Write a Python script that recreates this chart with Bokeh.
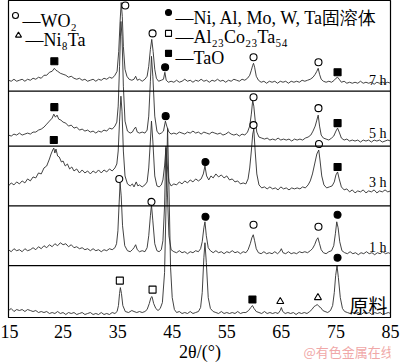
from bokeh.plotting import figure
from bokeh.models import Range1d, Label, Span, FixedTicker
from bokeh.layouts import column
from bokeh.embed import file_html
from bokeh.resources import INLINE

# ---------------- data (2theta in degrees, intensity in a.u.) ----------------
tick_values = [15, 25, 35, 45, 55, 65, 75, 85]
pattern_names = ["7 h", "5 h", "3 h", "1 h", "原料"]

xrd_7h = [(15.0, 11), (15.5, 10), (16.0, 12), (16.5, 10), (17.0, 11), (17.5, 12), (18.0, 10), (18.5, 12),
          (19.0, 11), (19.5, 13), (20.0, 12), (20.5, 14), (21.0, 13), (21.5, 16), (22.0, 16), (22.5, 19),
          (23.0, 20), (23.4, 23), (23.7, 21), (24.0, 20), (24.5, 18), (25.0, 17), (25.5, 16), (26.0, 14),
          (26.5, 15), (27.0, 13), (27.5, 12), (28.0, 13), (28.5, 11), (29.0, 12), (29.5, 10), (30.0, 11),
          (30.5, 12), (31.0, 10), (31.5, 12), (32.0, 11), (32.5, 13), (33.0, 12), (33.5, 14), (34.0, 13),
          (34.5, 16), (34.9, 20), (35.2, 40), (35.45, 70), (35.65, 89), (35.85, 75), (36.05, 45), (36.35, 22),
          (36.7, 15), (37.1, 12), (37.6, 11), (38.0, 12), (38.3, 15), (38.6, 11), (39.0, 12), (39.5, 10),
          (40.0, 12), (40.4, 15), (40.7, 25), (41.0, 42), (41.25, 52), (41.5, 40), (41.8, 22), (42.1, 13),
          (42.5, 10), (43.0, 11), (43.4, 12), (43.65, 19), (43.9, 11), (44.3, 9), (44.8, 10), (45.3, 9),
          (45.8, 11), (46.3, 9), (46.8, 10), (47.3, 12), (47.8, 10), (48.3, 11), (48.8, 9), (49.3, 11),
          (49.8, 10), (50.3, 12), (50.8, 10), (51.3, 11), (51.8, 9), (52.3, 11), (52.8, 10), (53.3, 12),
          (53.8, 10), (54.3, 11), (54.8, 9), (55.3, 11), (55.8, 10), (56.3, 12), (56.8, 11), (57.3, 10),
          (57.8, 12), (58.3, 11), (58.8, 13), (59.2, 16), (59.5, 21), (59.75, 26), (59.9, 28), (60.1, 24),
          (60.4, 15), (60.8, 11), (61.3, 9), (61.8, 10), (62.3, 8), (62.8, 10), (63.3, 9), (63.8, 10),
          (64.3, 8), (64.8, 10), (65.3, 9), (65.8, 10), (66.3, 8), (66.8, 10), (67.3, 9), (67.8, 10),
          (68.3, 9), (68.8, 11), (69.3, 10), (69.8, 11), (70.3, 12), (70.8, 14), (71.2, 17), (71.5, 20),
          (71.75, 23), (72.0, 17), (72.3, 12), (72.7, 10), (73.2, 9), (73.7, 10), (74.2, 9), (74.7, 11),
          (75.0, 13), (75.3, 14), (75.6, 12), (76.0, 9), (76.5, 10), (77.0, 8), (77.5, 9), (78.0, 8),
          (78.5, 9), (79.0, 8), (79.5, 10), (80.0, 8), (80.5, 9), (81.0, 8), (81.5, 9), (82.0, 7),
          (82.5, 9), (83.0, 8), (83.5, 9), (84.0, 8), (84.5, 9), (85.0, 8)]

xrd_5h = [(15.0, 11), (15.5, 10), (16.0, 12), (16.5, 11), (17.0, 13), (17.5, 11), (18.0, 12), (18.5, 13),
          (19.0, 12), (19.5, 14), (20.0, 14), (20.5, 16), (21.0, 17), (21.5, 19), (22.0, 22), (22.5, 25),
          (23.0, 28), (23.3, 32), (23.6, 29), (23.9, 31), (24.2, 27), (24.6, 26), (25.0, 24), (25.5, 23),
          (26.0, 20), (26.5, 21), (27.0, 18), (27.5, 19), (28.0, 16), (28.5, 17), (29.0, 15), (29.5, 16),
          (30.0, 14), (30.5, 15), (31.0, 13), (31.5, 15), (32.0, 14), (32.5, 16), (33.0, 15), (33.5, 18),
          (34.0, 17), (34.5, 20), (34.85, 24), (35.1, 40), (35.35, 80), (35.6, 125), (35.8, 110), (36.05, 60),
          (36.35, 25), (36.8, 15), (37.3, 13), (37.7, 14), (38.0, 17), (38.3, 19), (38.6, 14), (39.0, 13),
          (39.5, 14), (40.0, 13), (40.4, 16), (40.7, 30), (41.0, 65), (41.2, 90), (41.45, 70), (41.8, 30),
          (42.2, 15), (42.6, 12), (43.0, 13), (43.4, 15), (43.75, 25), (44.0, 20), (44.4, 14), (44.8, 12),
          (45.3, 13), (45.8, 12), (46.3, 14), (46.8, 13), (47.3, 12), (47.8, 14), (48.3, 13), (48.8, 15),
          (49.3, 13), (49.8, 14), (50.3, 12), (50.8, 14), (51.3, 13), (51.8, 12), (52.3, 14), (52.8, 13),
          (53.3, 12), (53.8, 13), (54.3, 11), (54.8, 12), (55.3, 14), (55.8, 12), (56.3, 11), (56.8, 12),
          (57.3, 10), (57.8, 12), (58.3, 11), (58.8, 14), (59.2, 20), (59.5, 32), (59.75, 46), (59.95, 40),
          (60.2, 26), (60.5, 14), (60.9, 9), (61.4, 8), (61.9, 7), (62.4, 8), (62.9, 6), (63.4, 7),
          (63.9, 6), (64.4, 8), (64.9, 6), (65.4, 7), (65.9, 6), (66.4, 7), (66.9, 5), (67.4, 7),
          (67.9, 6), (68.4, 7), (68.9, 6), (69.4, 8), (69.9, 9), (70.4, 11), (70.8, 15), (71.2, 20),
          (71.5, 26), (71.75, 31), (72.0, 20), (72.3, 11), (72.7, 8), (73.2, 7), (73.7, 6), (74.2, 8),
          (74.6, 10), (75.0, 15), (75.3, 18), (75.6, 14), (76.0, 8), (76.5, 6), (77.0, 7), (77.5, 5),
          (78.0, 6), (78.5, 5), (79.0, 6), (79.5, 4), (80.0, 6), (80.5, 5), (81.0, 6), (81.5, 4),
          (82.0, 6), (82.5, 5), (83.0, 6), (83.5, 4), (84.0, 5), (84.5, 6), (85.0, 5)]

xrd_3h = [(15.0, 20), (15.5, 23), (16.0, 21), (16.5, 24), (17.0, 22), (17.5, 25), (18.0, 23), (18.5, 27),
          (19.0, 25), (19.5, 29), (20.0, 28), (20.5, 33), (21.0, 32), (21.5, 38), (22.0, 40), (22.5, 47),
          (22.8, 52), (23.1, 56), (23.3, 58), (23.5, 53), (23.7, 57), (24.0, 50), (24.3, 49), (24.7, 44),
          (25.0, 45), (25.4, 40), (25.8, 42), (26.2, 37), (26.6, 39), (27.0, 35), (27.5, 37), (28.0, 33),
          (28.5, 36), (29.0, 33), (29.5, 35), (30.0, 32), (30.5, 35), (31.0, 33), (31.5, 36), (32.0, 33),
          (32.5, 36), (33.0, 34), (33.5, 37), (34.0, 35), (34.5, 38), (34.85, 42), (35.1, 55), (35.35, 85),
          (35.6, 110), (35.8, 95), (36.05, 55), (36.35, 30), (36.8, 22), (37.3, 20), (37.7, 22), (38.0, 19),
          (38.4, 24), (38.7, 20), (39.0, 21), (39.5, 19), (40.0, 21), (40.4, 24), (40.7, 38), (41.0, 65),
          (41.2, 85), (41.45, 65), (41.8, 30), (42.2, 20), (42.6, 19), (43.0, 21), (43.3, 26), (43.6, 40),
          (43.85, 58), (44.1, 40), (44.4, 24), (44.8, 20), (45.3, 22), (45.8, 21), (46.3, 24), (46.8, 22),
          (47.3, 25), (47.8, 23), (48.3, 26), (48.8, 24), (49.3, 27), (49.8, 25), (50.3, 27), (50.7, 32),
          (51.0, 40), (51.3, 30), (51.7, 26), (52.1, 30), (52.5, 28), (53.0, 32), (53.5, 29), (54.0, 31),
          (54.5, 28), (55.0, 30), (55.5, 26), (56.0, 27), (56.5, 24), (57.0, 25), (57.5, 22), (58.0, 23),
          (58.5, 22), (58.9, 27), (59.2, 38), (59.5, 55), (59.75, 72), (59.95, 77), (60.2, 55), (60.5, 32),
          (60.9, 21), (61.4, 18), (61.9, 19), (62.4, 17), (62.9, 19), (63.4, 17), (63.9, 18), (64.4, 16),
          (64.9, 19), (65.4, 17), (65.9, 18), (66.4, 16), (66.9, 18), (67.4, 17), (67.9, 18), (68.4, 17),
          (68.9, 19), (69.4, 18), (69.9, 21), (70.3, 25), (70.7, 32), (71.1, 42), (71.5, 52), (71.85, 56),
          (72.1, 45), (72.4, 30), (72.8, 21), (73.3, 18), (73.8, 19), (74.3, 20), (74.7, 24), (75.0, 31),
          (75.3, 34), (75.6, 27), (76.0, 19), (76.5, 16), (77.0, 17), (77.5, 14), (78.0, 16), (78.5, 13),
          (79.0, 15), (79.5, 14), (80.0, 16), (80.5, 13), (81.0, 15), (81.5, 14), (82.0, 16), (82.5, 13),
          (83.0, 15), (83.5, 14), (84.0, 16), (84.5, 14), (85.0, 15)]

xrd_1h = [(15.0, 16), (15.5, 14), (16.0, 17), (16.5, 15), (17.0, 16), (17.5, 14), (18.0, 17), (18.5, 15),
          (19.0, 16), (19.5, 18), (20.0, 16), (20.5, 19), (21.0, 17), (21.5, 20), (22.0, 18), (22.5, 21),
          (23.0, 19), (23.5, 22), (24.0, 20), (24.5, 23), (25.0, 21), (25.5, 22), (26.0, 19), (26.5, 21),
          (27.0, 18), (27.5, 19), (28.0, 17), (28.5, 18), (29.0, 16), (29.5, 17), (30.0, 15), (30.5, 17),
          (31.0, 15), (31.5, 16), (32.0, 14), (32.5, 16), (33.0, 15), (33.5, 17), (34.0, 16), (34.5, 18),
          (34.8, 22), (35.05, 35), (35.25, 60), (35.45, 83), (35.65, 70), (35.9, 40), (36.3, 20), (36.8, 15),
          (37.3, 14), (37.7, 16), (38.0, 18), (38.3, 21), (38.6, 16), (39.0, 14), (39.5, 15), (40.0, 14),
          (40.4, 18), (40.7, 30), (41.0, 50), (41.2, 61), (41.45, 45), (41.8, 22), (42.2, 15), (42.6, 14),
          (43.0, 16), (43.3, 25), (43.6, 60), (43.85, 120), (44.1, 75), (44.4, 30), (44.8, 16), (45.3, 14),
          (45.8, 13), (46.3, 15), (46.8, 13), (47.3, 14), (47.8, 12), (48.3, 14), (48.8, 13), (49.3, 15),
          (49.8, 14), (50.2, 17), (50.5, 24), (50.8, 38), (51.0, 44), (51.25, 30), (51.6, 18), (52.0, 15),
          (52.5, 13), (53.0, 15), (53.5, 13), (54.0, 14), (54.5, 12), (55.0, 14), (55.5, 13), (56.0, 15),
          (56.5, 13), (57.0, 14), (57.5, 12), (58.0, 14), (58.5, 13), (58.9, 16), (59.3, 22), (59.6, 28),
          (59.85, 31), (60.1, 25), (60.4, 17), (60.8, 13), (61.3, 12), (61.8, 14), (62.3, 12), (62.8, 13),
          (63.3, 12), (63.8, 14), (64.3, 12), (64.7, 14), (65.0, 17), (65.3, 13), (65.8, 12), (66.3, 14),
          (66.8, 12), (67.3, 13), (67.8, 12), (68.3, 14), (68.8, 13), (69.3, 14), (69.8, 13), (70.3, 15),
          (70.7, 17), (71.1, 21), (71.45, 26), (71.7, 28), (72.0, 22), (72.3, 16), (72.7, 13), (73.2, 12),
          (73.7, 14), (74.2, 15), (74.6, 20), (74.9, 32), (75.15, 44), (75.4, 38), (75.7, 24), (76.1, 15),
          (76.6, 13), (77.1, 12), (77.6, 14), (78.1, 12), (78.6, 13), (79.1, 11), (79.6, 13), (80.1, 12),
          (80.6, 14), (81.1, 12), (81.6, 13), (82.1, 11), (82.6, 13), (83.1, 12), (83.6, 14), (84.1, 12),
          (84.6, 13), (85.0, 12)]

xrd_raw = [(15.0, 7), (15.5, 9), (16.0, 6), (16.5, 8), (17.0, 7), (17.5, 8), (18.0, 6), (18.5, 8),
           (19.0, 7), (19.5, 6), (20.0, 7), (20.5, 5), (21.0, 6), (21.5, 5), (22.0, 6), (22.5, 4),
           (23.0, 5), (23.5, 4), (24.0, 6), (24.5, 4), (25.0, 5), (25.5, 3), (26.0, 5), (26.5, 4),
           (27.0, 5), (27.5, 3), (28.0, 4), (28.5, 5), (29.0, 3), (29.5, 4), (30.0, 5), (30.5, 3),
           (31.0, 4), (31.5, 3), (32.0, 5), (32.5, 3), (33.0, 4), (33.5, 3), (34.0, 5), (34.5, 4),
           (34.9, 6), (35.15, 12), (35.35, 24), (35.5, 30), (35.7, 24), (35.95, 12), (36.4, 6), (37.0, 5),
           (37.6, 7), (38.0, 6), (38.5, 5), (39.0, 6), (39.5, 5), (40.0, 6), (40.4, 8), (40.8, 14),
           (41.1, 20), (41.3, 21), (41.6, 14), (42.0, 9), (42.4, 7), (42.8, 9), (43.2, 15), (43.6, 45),
           (43.9, 120), (44.15, 190), (44.4, 130), (44.7, 50), (45.0, 20), (45.4, 8), (45.8, 5), (46.3, 6),
           (46.8, 4), (47.3, 5), (47.8, 4), (48.3, 6), (48.8, 4), (49.3, 5), (49.8, 6), (50.2, 10),
           (50.5, 25), (50.8, 60), (51.0, 75), (51.25, 55), (51.6, 20), (52.0, 9), (52.5, 6), (53.0, 5),
           (53.5, 4), (54.0, 6), (54.5, 4), (55.0, 5), (55.5, 4), (56.0, 5), (56.5, 4), (57.0, 6),
           (57.5, 4), (58.0, 5), (58.5, 5), (59.0, 7), (59.4, 10), (59.7, 12), (60.0, 9), (60.4, 6),
           (60.9, 5), (61.4, 4), (61.9, 6), (62.4, 4), (62.9, 5), (63.4, 4), (63.9, 5), (64.4, 4),
           (64.8, 7), (65.0, 10), (65.25, 6), (65.7, 4), (66.2, 5), (66.7, 4), (67.2, 5), (67.7, 3),
           (68.2, 5), (68.7, 4), (69.2, 5), (69.7, 4), (70.2, 6), (70.6, 8), (71.0, 11), (71.3, 12),
           (71.6, 13), (71.9, 11), (72.2, 10), (72.6, 7), (73.0, 6), (73.5, 5), (74.0, 7), (74.4, 12),
           (74.7, 25), (74.95, 42), (75.2, 52), (75.45, 40), (75.8, 20), (76.2, 9), (76.6, 6), (77.1, 5),
           (77.6, 4), (78.1, 5), (78.6, 4), (79.1, 5), (79.6, 3), (80.1, 5), (80.6, 4), (81.1, 5),
           (81.6, 3), (82.1, 5), (82.6, 4), (83.1, 5), (83.6, 3), (84.1, 4), (84.6, 5), (85.0, 4)]

# phase markers: (pattern index, 2theta, height above the pattern's panel base)
wo2_marks = [(0, 36.4, 86), (0, 41.4, 58), (0, 59.9, 34), (0, 71.8, 29),
             (1, 59.9, 49), (1, 71.8, 38),
             (2, 59.9, 81), (2, 71.9, 62),
             (3, 35.3, 87), (3, 41.2, 64), (3, 59.9, 41), (3, 71.8, 39)]
ss_marks = [(0, 43.7, 24), (1, 43.8, 30), (2, 51.1, 44), (3, 51.1, 49), (3, 75.3, 51), (4, 75.3, 60)]
alcota_marks = [(4, 35.4, 37), (4, 41.4, 28)]
tao_marks = [(0, 23.4, 30), (0, 75.3, 19), (1, 23.4, 39), (1, 75.3, 23), (2, 23.3, 66), (2, 75.3, 39),
             (4, 59.7, 18)]
ni8ta_marks = [(4, 64.8, 16), (4, 71.7, 20)]

x_title = "2θ/(°)"
watermark = "@有色金属在线"

# ---------------- layout ----------------
panel_base = [227, 172, 112, 52, 0]      # vertical offset of each stacked pattern
separators = [227, 172, 112, 52]
patterns = [xrd_7h, xrd_5h, xrd_3h, xrd_1h, xrd_raw]

SERIF = "Liberation Serif"
CJK = "Noto Sans CJK SC"

xr = Range1d(15, 85)
p = figure(width=400, height=340, x_range=xr, y_range=Range1d(0, 318),
           output_backend="svg", toolbar_location=None, y_axis_location=None,
           min_border_left=8, min_border_right=10, min_border_top=0, min_border_bottom=22,
           background_fill_color="white", border_fill_color="white")
p.grid.visible = False
p.outline_line_color = "black"
p.outline_line_width = 1.2

ax = p.xaxis[0]
ax.ticker = FixedTicker(ticks=tick_values)
ax.major_label_text_font = SERIF
ax.major_label_text_font_size = "18px"
ax.major_label_text_color = "black"
ax.major_tick_line_color = None
ax.minor_tick_line_color = None
ax.major_label_standoff = 1
ax.axis_line_color = "black"

for s in separators:
    p.add_layout(Span(location=s, dimension="width", line_color="black", line_width=1.2))

for base, pat in zip(panel_base, patterns):
    xs = [a for a, b in pat]
    ys = [base + b for a, b in pat]
    p.line(xs, ys, line_color="#2e2e2e", line_width=0.9)


def add_marks(marks, marker, fill, size):
    xs = [t for i, t, h in marks]
    ys = [panel_base[i] + h for i, t, h in marks]
    p.scatter(xs, ys, marker=marker, size=size, fill_color=fill, line_color="black", line_width=1.1)


add_marks(wo2_marks, "circle", "white", 7)
add_marks(ss_marks, "circle", "black", 7)
add_marks(alcota_marks, "square", "white", 7)
add_marks(tao_marks, "square", "black", 7)
add_marks(ni8ta_marks, "triangle", "white", 7)

# pattern labels
label_pos = [(84.27, 238), (84.27, 185), (84.27, 135), (84.27, 70)]
for (lx, ly), name in zip(label_pos, pattern_names[:4]):
    p.add_layout(Label(x=lx, y=ly, text=name, text_align="right", text_baseline="alphabetic",
                       text_font=SERIF, text_font_size="14px", text_color="black"))
p.add_layout(Label(x=77.5, y=13, text=pattern_names[4], text_align="left", text_baseline="alphabetic",
                   text_font=CJK, text_font_size="19px", text_color="black"))

# legend
legend_items = [("circle", "white", 16.28, 303, "—WO₂", 17.57, 297),
                ("triangle", "white", 16.83, 283, "—Ni₈Ta", 18.12, 278),
                ("circle", "black", 44.32, 306, "—Ni, Al, Mo, W, Ta固溶体", 45.6, 300),
                ("square", "white", 44.32, 285, "—Al₂₃Co₂₃Ta₅₄", 45.6, 281),
                ("square", "black", 44.32, 265, "—TaO", 45.6, 260)]
for mk, fill, mx, my, txt, tx, ty in legend_items:
    p.scatter([mx], [my], marker=mk, size=6, fill_color=fill, line_color="black", line_width=1.1)
    p.add_layout(Label(x=tx, y=ty, text=txt, text_align="left", text_baseline="alphabetic",
                       text_font=SERIF, text_font_size="18px", text_color="black"))

# strip below the axis: axis title and watermark
q = figure(width=400, height=22, x_range=xr, y_range=Range1d(0, 22),
           output_backend="svg", toolbar_location=None, x_axis_location=None, y_axis_location=None,
           min_border_left=8, min_border_right=10, min_border_top=0, min_border_bottom=0,
           background_fill_color="white", border_fill_color="white")
q.grid.visible = False
q.outline_line_color = None
q.add_layout(Label(x=50.09, y=11, text=x_title, text_align="center", text_baseline="middle",
                   text_font=SERIF, text_font_size="18px", text_color="black"))
q.add_layout(Label(x=69.06, y=11, text=watermark, text_align="left", text_baseline="middle",
                   text_font=CJK, text_font_size="13px", text_color="#f0a8a8"))

page = column(p, q, spacing=0)
open("out.html", "w").write(file_html(page, INLINE))
